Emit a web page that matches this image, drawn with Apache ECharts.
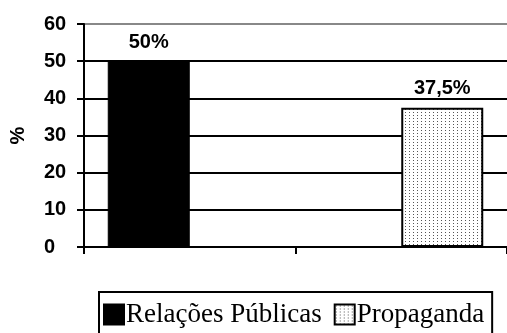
<!DOCTYPE html>
<html>
<head>
<meta charset="utf-8">
<script src="https://cdn.jsdelivr.net/npm/echarts@6/dist/echarts.min.js"></script>
<style>
html, body { margin: 0; padding: 0; background: #fff; }
#chart { width: 507px; height: 333px; }
</style>
</head>
<body>
<div id="chart"></div>
<script>
// categorias e valores
var categorias = ['A', 'B'];
var relacoesPublicas = [50, '-'];
var propaganda = ['-', 37.5];
var rotulos = ['50%', '37,5%'];

// padrão pontilhado da barra "Propaganda"
function criaPadrao() {
    var c = document.createElement('canvas');
    c.width = 4;
    c.height = 3;
    var ctx = c.getContext('2d');
    ctx.fillStyle = '#fff';
    ctx.fillRect(0, 0, 4, 3);
    ctx.fillStyle = '#555';
    ctx.fillRect(1, 1, 1, 1);
    return c;
}

var padrao = { image: criaPadrao(), repeat: 'repeat' };
var myChart = echarts.init(document.getElementById('chart'));

var labelBold = {
    show: true,
    position: 'top',
    distance: 9,
    color: '#000',
    fontFamily: 'Liberation Sans, Arial',
    fontWeight: 'bold',
    fontSize: 20
};

var option = {
    animation: false,
    grid: { left: 84, width: 432, top: 24, height: 223 },
    legend: {
        top: 292,
        left: 99,
        itemWidth: 20,
        itemHeight: 20,
        itemGap: 12,
        padding: [9, 8, 20, 4],
        borderColor: '#000',
        borderWidth: 2,
        icon: 'rect',
        textStyle: { fontFamily: 'Liberation Serif, Times New Roman', fontSize: 27, color: '#000', padding: [0, 0, 0, -3] },
        data: ['Relações Públicas', 'Propaganda']
    },
    xAxis: {
        type: 'category',
        data: categorias,
        axisLine: { lineStyle: { color: '#000', width: 2 } },
        axisTick: { show: true, length: 7, lineStyle: { color: '#000', width: 2 } },
        axisLabel: { show: false }
    },
    yAxis: {
        type: 'value',
        min: 0,
        max: 60,
        interval: 10,
        name: '%',
        nameLocation: 'middle',
        nameGap: 56,
        nameRotate: 90,
        nameTextStyle: { fontFamily: 'Liberation Sans, Arial', fontWeight: 'bold', fontSize: 20, color: '#000' },
        axisLine: { show: true, lineStyle: { color: '#000', width: 2 } },
        axisTick: { show: true, length: 7, lineStyle: { color: '#000', width: 2 } },
        axisLabel: { fontFamily: 'Liberation Sans, Arial', fontWeight: 'bold', fontSize: 20, color: '#000', margin: 40, align: 'left' },
        splitLine: {
            show: true,
            lineStyle: { width: 2, color: ['#000', '#000', '#000', '#000', '#000', '#000', '#888'] }
        }
    },
    series: [{
        name: 'Relações Públicas',
        type: 'bar',
        data: relacoesPublicas,
        barWidth: 82,
        barGap: '0%',
        itemStyle: { color: '#000', borderColor: '#000', borderWidth: 1 },
        label: Object.assign({}, labelBold, { formatter: function () { return rotulos[0]; } })
    }, {
        name: 'Propaganda',
        type: 'bar',
        data: propaganda,
        barWidth: 82,
        itemStyle: { color: padrao, borderColor: '#000', borderWidth: 2 },
        label: Object.assign({}, labelBold, { formatter: function () { return rotulos[1]; } })
    }]
};

myChart.setOption(option);
</script>
</body>
</html>
